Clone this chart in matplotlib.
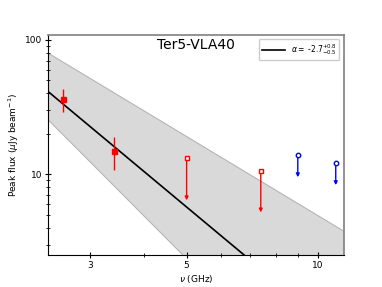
import numpy as np
import matplotlib.pyplot as plt
from matplotlib.ticker import FixedLocator, NullFormatter, LogLocator

# detections (GHz, uJy/beam)
det_nu = [2.6, 3.4]
det_flux = [36.0, 14.9]
det_lo = [29.0, 10.8]
det_hi = [43.0, 18.9]

# upper limits, red (VLA) and blue
ul_nu = [5.0, 7.4]
ul_top = [13.3, 10.5]
ul_bot = [6.4, 5.2]
ul2_nu = [9.0, 11.0]
ul2_top = [13.9, 12.1]
ul2_bot = [9.5, 8.3]

# power-law fit S = A * nu^alpha
amp = 440.0
alpha = -2.7
alpha_hi = -1.95
alpha_lo = -3.25

fig = plt.figure(figsize=(3.82, 2.87), dpi=100)
ax = fig.add_axes([0.1264, 0.1115, 0.7741, 0.7675])
ax.set_xscale('log')
ax.set_yscale('log')

nu = np.logspace(np.log10(2.0), np.log10(13.0), 200)
ax.fill_between(nu, amp * nu ** alpha_lo, amp * nu ** alpha_hi,
                facecolor='#d9d9d9', edgecolor='#b5b5b5', linewidth=0.8, zorder=1)
ax.plot(nu, amp * nu ** alpha, color='black', lw=1.2, zorder=3,
        label=r'$\alpha=$ -2.7$^{+0.8}_{-0.5}$')

det_flux = np.array(det_flux)
yerr = [det_flux - np.array(det_lo), np.array(det_hi) - det_flux]
ax.errorbar(det_nu, det_flux, yerr=yerr, fmt='s', color='red', ms=3.6,
            elinewidth=1.0, capsize=0, zorder=4)

for x, t, b in zip(ul_nu, ul_top, ul_bot):
    ax.annotate('', xy=(x, b), xytext=(x, t),
                arrowprops=dict(arrowstyle='-|>', color='red', lw=1.0,
                                mutation_scale=5, shrinkA=0, shrinkB=0), zorder=4)
ax.plot(ul_nu, ul_top, 's', mfc='white', mec='red', ms=3.5, mew=1.0, ls='none', zorder=5)

for x, t, b in zip(ul2_nu, ul2_top, ul2_bot):
    ax.annotate('', xy=(x, b), xytext=(x, t),
                arrowprops=dict(arrowstyle='-|>', color='blue', lw=1.0,
                                mutation_scale=5, shrinkA=0, shrinkB=0), zorder=4)
ax.plot(ul2_nu, ul2_top, 'o', mfc='white', mec='blue', ms=3.2, mew=1.0, ls='none', zorder=5)

ax.set_xlim(2.406, 11.49)
ax.set_ylim(2.51, 109)

ax.xaxis.set_major_locator(FixedLocator([3, 5, 10]))
ax.xaxis.set_major_formatter(plt.FuncFormatter(lambda v, p: f'{v:g}'))
ax.xaxis.set_minor_locator(FixedLocator([4, 6, 7, 8, 9]))
ax.xaxis.set_minor_formatter(NullFormatter())
ax.yaxis.set_major_locator(FixedLocator([10, 100]))
ax.yaxis.set_major_formatter(plt.FuncFormatter(lambda v, p: f'{v:g}'))
ax.yaxis.set_minor_locator(LogLocator(base=10, subs=np.arange(2, 10)))
ax.yaxis.set_minor_formatter(NullFormatter())
ax.tick_params(which='major', direction='inout', length=5, width=0.8, labelsize=6.5, pad=2)
ax.tick_params(which='minor', direction='inout', length=3, width=0.6)

for s in ['top', 'right']:
    ax.spines[s].set_color('#808080')
    ax.spines[s].set_linewidth(1.2)
for s in ['left', 'bottom']:
    ax.spines[s].set_linewidth(0.8)

ax.set_xlabel(r'$\nu$ (GHz)', fontsize=6.5, labelpad=2)
ax.set_ylabel(r'Peak flux ($\mu$Jy beam$^{-1}$)', fontsize=6.5, labelpad=3)
ax.text(0.5, 0.955, 'Ter5-VLA40', transform=ax.transAxes, ha='center', va='center',
        fontsize=10)
ax.legend(loc='upper right', fontsize=5.5, handlelength=3.0, borderpad=0.4,
          handletextpad=0.8, framealpha=1, fancybox=True, borderaxespad=0.6)

fig.savefig('out.png', dpi=100)
